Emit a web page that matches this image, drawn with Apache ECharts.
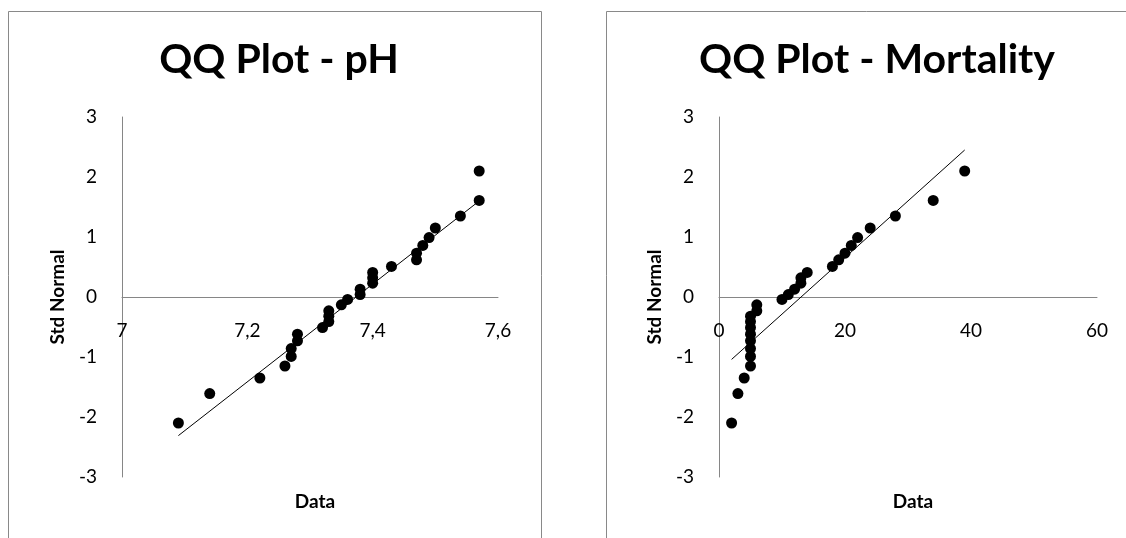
<!DOCTYPE html>
<html>
<head>
<meta charset="utf-8">
<script src="https://cdn.jsdelivr.net/npm/echarts@6/dist/echarts.min.js"></script>
<style>
  html, body { margin: 0; padding: 0; background: #ffffff; }
  #chart { width: 1126px; height: 538px; }
</style>
</head>
<body>
<div id="chart"></div>
<script>
// ---- Data ----
const titles = ['QQ Plot - pH', 'QQ Plot - Mortality'];
const xAxisTitle = 'Data';
const yAxisTitle = 'Std Normal';

const stdNormal = [-2.10, -1.61, -1.35, -1.15, -0.99, -0.86, -0.73, -0.62, -0.51, -0.41,
                   -0.32, -0.23, -0.13, -0.04, 0.04, 0.13, 0.23, 0.32, 0.41, 0.51,
                   0.62, 0.73, 0.86, 0.99, 1.15, 1.35, 1.61, 2.10];

const phData = [7.09, 7.14, 7.22, 7.26, 7.27, 7.27, 7.28, 7.28, 7.32, 7.33,
                7.33, 7.33, 7.35, 7.36, 7.38, 7.38, 7.40, 7.40, 7.40, 7.43,
                7.47, 7.47, 7.48, 7.49, 7.50, 7.54, 7.57, 7.57];

const mortalityData = [2, 3, 4, 5, 5, 5, 5, 5, 5, 5,
                       5, 6, 6, 10, 11, 12, 13, 13, 14, 18,
                       19, 20, 21, 22, 24, 28, 34, 39];

// reference (fitted normal) lines: endpoints
const phLineX = [7.09, 7.57];
const phLineY = [-2.31, 1.60];
const mortLineX = [2, 39];
const mortLineY = [-1.04, 2.45];

// axis ranges / ticks
const phAxis = { min: 7, max: 7.6, interval: 0.2 };
const mortAxis = { min: 0, max: 60, interval: 20 };
const yRange = { min: -3, max: 3, interval: 1 };

// ---- Build chart ----
const FONT = 'Lato, "Open Sans", sans-serif';
const AXIS_GRAY = '#868686';
const zip = (xs, ys) => xs.map((x, i) => [x, ys[i]]);
const fmtComma = v => {
  const r = Math.round(v * 10) / 10;
  return Number.isInteger(r) ? String(r) : r.toFixed(1).replace('.', ',');
};

const PLOT_TOP = 117, PLOT_H = 360;
const grids = [
  { left: 122, top: PLOT_TOP, width: 376, height: PLOT_H },
  { left: 719, top: PLOT_TOP, width: 378, height: PLOT_H }
];
// x axis drawn across the y = 0 line (middle of the symmetric y range)
const zeroOffset = -PLOT_H * (0 - yRange.min) / (yRange.max - yRange.min);

function xAxisCfg(idx, ax) {
  return {
    type: 'value', gridIndex: idx, min: ax.min, max: ax.max, interval: ax.interval,
    position: 'bottom', offset: zeroOffset,
    axisLine: { onZero: false, lineStyle: { color: AXIS_GRAY, width: 1 } },
    axisTick: { show: false },
    splitLine: { show: false },
    axisLabel: { color: '#000', fontFamily: FONT, fontSize: 19, margin: 24, formatter: fmtComma }
  };
}
function yAxisCfg(idx) {
  return {
    type: 'value', gridIndex: idx, min: yRange.min, max: yRange.max, interval: yRange.interval,
    axisLine: { show: true, onZero: false, lineStyle: { color: AXIS_GRAY, width: 1 } },
    axisTick: { show: false },
    splitLine: { show: false },
    axisLabel: { color: '#000', fontFamily: FONT, fontSize: 19, margin: 25 },
    name: yAxisTitle, nameLocation: 'middle', nameRotate: 90, nameGap: 55,
    nameTextStyle: { color: '#000', fontFamily: FONT, fontSize: 19, fontWeight: 'bold' }
  };
}

const option = {
  animation: false,
  backgroundColor: '#ffffff',
  title: [
    { text: titles[0], left: 274, top: 34, textAlign: 'center',
      textStyle: { fontFamily: FONT, fontSize: 41, fontWeight: 'bold', color: '#000' } },
    { text: titles[1], left: 872, top: 34, textAlign: 'center',
      textStyle: { fontFamily: FONT, fontSize: 41, fontWeight: 'bold', color: '#000' } },
    { text: xAxisTitle, left: 310, top: 487, textAlign: 'center',
      textStyle: { fontFamily: FONT, fontSize: 19, fontWeight: 'bold', color: '#000' } },
    { text: xAxisTitle, left: 908, top: 487, textAlign: 'center',
      textStyle: { fontFamily: FONT, fontSize: 19, fontWeight: 'bold', color: '#000' } }
  ],
  graphic: [
    { type: 'rect', shape: { x: 8.5, y: 11.5, width: 533, height: 600 }, silent: true, z: -1,
      style: { fill: 'none', stroke: '#898989', lineWidth: 1 } },
    { type: 'rect', shape: { x: 606.5, y: 11.5, width: 533, height: 600 }, silent: true, z: -1,
      style: { fill: 'none', stroke: '#898989', lineWidth: 1 } }
  ],
  grid: grids,
  xAxis: [xAxisCfg(0, phAxis), xAxisCfg(1, mortAxis)],
  yAxis: [yAxisCfg(0), yAxisCfg(1)],
  series: [
    { type: 'line', xAxisIndex: 0, yAxisIndex: 0, data: zip(phLineX, phLineY),
      symbol: 'none', lineStyle: { color: '#000', width: 1 }, z: 2 },
    { type: 'scatter', xAxisIndex: 0, yAxisIndex: 0, data: zip(phData, stdNormal),
      symbol: 'circle', symbolSize: 11, itemStyle: { color: '#000', opacity: 1 }, z: 3 },
    { type: 'line', xAxisIndex: 1, yAxisIndex: 1, data: zip(mortLineX, mortLineY),
      symbol: 'none', lineStyle: { color: '#000', width: 1 }, z: 2 },
    { type: 'scatter', xAxisIndex: 1, yAxisIndex: 1, data: zip(mortalityData, stdNormal),
      symbol: 'circle', symbolSize: 11, itemStyle: { color: '#000', opacity: 1 }, z: 3 }
  ]
};

const chart = echarts.init(document.getElementById('chart'), null, { renderer: 'canvas' });
chart.setOption(option);
</script>
</body>
</html>
